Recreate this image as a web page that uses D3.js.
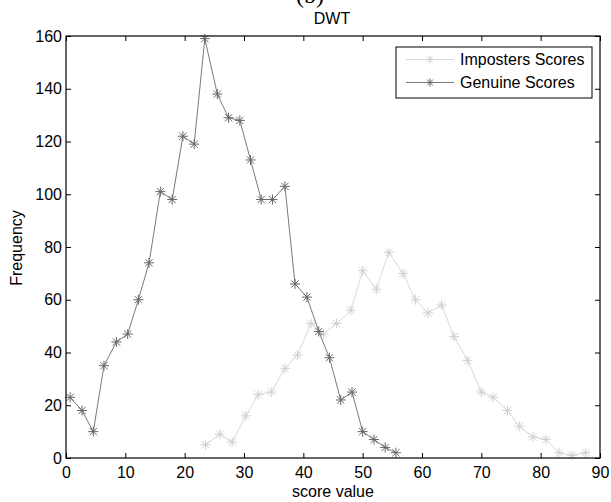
<!DOCTYPE html>
<html>
<head>
<meta charset="utf-8">
<script src="https://cdn.jsdelivr.net/npm/d3@7"></script>
<style>
  body { margin: 0; background: #fff; }
  text { font-family: "Liberation Sans", Arial, sans-serif; fill: #000; }
</style>
</head>
<body>
<div id="svg"></div>
<script>
// score value bins and counts
var imposterX = [23.5, 25.9, 28.0, 30.3, 32.4, 34.6, 36.9, 39.0, 41.3, 43.4, 45.6, 48.0, 50.0, 52.3, 54.4,
                 56.8, 58.9, 61.0, 63.3, 65.4, 67.7, 70.0, 72.0, 74.4, 76.4, 78.7, 80.9, 83.1, 85.3, 87.6];
var imposterY = [5, 9, 6, 16, 24, 25, 34, 39, 51, 47, 51, 56, 71, 64, 78,
                 70, 60, 55, 58, 46, 37, 25, 23, 18, 12, 8, 7, 2, 1, 2];
var genuineX = [0.7, 2.7, 4.6, 6.4, 8.5, 10.4, 12.2, 14.0, 15.9, 17.9, 19.7, 21.6, 23.4, 25.5, 27.4,
                29.3, 31.1, 32.9, 34.8, 36.9, 38.6, 40.6, 42.6, 44.4, 46.3, 48.2, 50.0, 51.9, 53.8, 55.6];
var genuineY = [23, 18, 10, 35, 44, 47, 60, 74, 101, 98, 122, 119, 159, 138, 129,
                128, 113, 98, 98, 103, 66, 61, 48, 38, 22, 25, 10, 7, 4, 2];
var xTicks = [0, 10, 20, 30, 40, 50, 60, 70, 80, 90];
var yTicks = [0, 20, 40, 60, 80, 100, 120, 140, 160];
var seriesNames = ["Imposters Scores", "Genuine Scores"];
var seriesColors = ["#d9d9d9", "#7a7a7a"];
var markerColors = ["#d0d0d0", "#666"];

var width = 611;
var height = 502;
var plotLeft = 66, plotRight = 600, plotTop = 36, plotBottom = 458;
var fontSize = "16px";

var x_axis = d3.scaleLinear().domain([0, 90]).range([plotLeft, plotRight]);
var y_axis = d3.scaleLinear().domain([0, 160]).range([plotBottom, plotTop]);

var svg = d3.select("#svg").append("svg")
  .attr("width", width)
  .attr("height", height);

// asterisk marker like matlab '*'
function star(cx, cy, r) {
  var d = r * 0.72;
  return "M" + (cx - r) + "," + cy + "H" + (cx + r) +
    "M" + cx + "," + (cy - r) + "V" + (cy + r) +
    "M" + (cx - d) + "," + (cy - d) + "L" + (cx + d) + "," + (cy + d) +
    "M" + (cx - d) + "," + (cy + d) + "L" + (cx + d) + "," + (cy - d);
}

var line = d3.line()
  .x(function(d) { return x_axis(d[0]); })
  .y(function(d) { return y_axis(d[1]); });

function drawSeries(xs, ys, color, markColor) {
  var pts = xs.map(function(v, i) { return [v, ys[i]]; });
  svg.append("path")
    .datum(pts)
    .attr("d", line)
    .attr("fill", "none")
    .attr("stroke", color)
    .attr("stroke-width", 1);
  svg.append("g").selectAll("path")
    .data(pts)
    .enter().append("path")
    .attr("d", function(d) { return star(x_axis(d[0]), y_axis(d[1]), 5); })
    .attr("stroke", markColor)
    .attr("stroke-width", 1)
    .attr("fill", "none");
}

drawSeries(imposterX, imposterY, seriesColors[0], markerColors[0]);
drawSeries(genuineX, genuineY, seriesColors[1], markerColors[1]);

// axes, matlab style with inward ticks on all four sides
svg.append("g")
  .attr("transform", "translate(0," + plotBottom + ")")
  .call(d3.axisBottom(x_axis).tickValues(xTicks).tickSize(-5).tickPadding(9))
  .call(function(g) { g.select(".domain").remove(); })
  .selectAll("text").style("font-size", fontSize);

svg.append("g")
  .attr("transform", "translate(0," + plotTop + ")")
  .call(d3.axisTop(x_axis).tickValues(xTicks).tickSize(-5).tickFormat(""))
  .call(function(g) { g.select(".domain").remove(); });

svg.append("g")
  .attr("transform", "translate(" + plotLeft + ",0)")
  .call(d3.axisLeft(y_axis).tickValues(yTicks).tickSize(-5).tickPadding(4))
  .call(function(g) { g.select(".domain").remove(); })
  .selectAll("text").style("font-size", fontSize);

svg.append("g")
  .attr("transform", "translate(" + plotRight + ",0)")
  .call(d3.axisRight(y_axis).tickValues(yTicks).tickSize(-5).tickFormat(""))
  .call(function(g) { g.select(".domain").remove(); });

svg.append("rect")
  .attr("x", plotLeft)
  .attr("y", plotTop)
  .attr("width", plotRight - plotLeft)
  .attr("height", plotBottom - plotTop)
  .attr("fill", "none")
  .attr("stroke", "#000")
  .attr("stroke-width", 1.2);

// titles
svg.append("text")
  .text("(b)")
  .attr("x", 310)
  .attr("y", 3)
  .attr("text-anchor", "middle")
  .style("font-family", "'Liberation Serif', serif")
  .style("font-size", "24px");

svg.append("text")
  .text("DWT")
  .attr("x", 332)
  .attr("y", 24)
  .attr("text-anchor", "middle")
  .style("font-size", fontSize);

svg.append("text")
  .text("score value")
  .attr("x", 333)
  .attr("y", 497)
  .attr("text-anchor", "middle")
  .style("font-size", fontSize);

svg.append("text")
  .text("Frequency")
  .attr("transform", "translate(22,248) rotate(-90)")
  .attr("text-anchor", "middle")
  .style("font-size", fontSize);

// legend
var legend = svg.append("g");
legend.append("rect")
  .attr("x", 396)
  .attr("y", 47)
  .attr("width", 196)
  .attr("height", 51)
  .attr("fill", "#fff")
  .attr("stroke", "#000")
  .attr("stroke-width", 1);

seriesNames.forEach(function(name, i) {
  var ly = 59.5 + i * 23;
  legend.append("line")
    .attr("x1", 406).attr("x2", 454)
    .attr("y1", ly).attr("y2", ly)
    .attr("stroke", seriesColors[i]);
  legend.append("path")
    .attr("d", star(430, ly, 4))
    .attr("stroke", markerColors[i])
    .attr("fill", "none");
  legend.append("text")
    .text(name)
    .attr("x", 460)
    .attr("y", ly + 5.5)
    .style("font-size", fontSize);
});
</script>
</body>
</html>
